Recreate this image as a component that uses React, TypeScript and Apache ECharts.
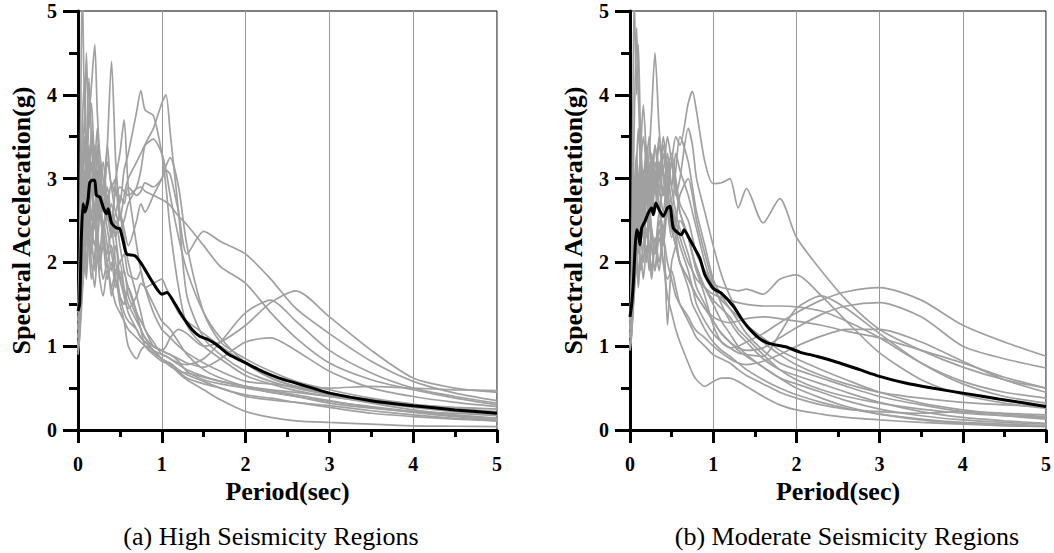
import React, { useEffect, useRef } from "react";
import * as echarts from "echarts";

// ---------- data ----------
const periodsHigh = [0, 0.02, 0.05, 0.08, 0.1, 0.13, 0.16, 0.2, 0.23, 0.26, 0.3, 0.35, 0.4, 0.45, 0.5, 0.55, 0.6, 0.7, 0.75, 0.8, 0.9, 1.0, 1.05, 1.1, 1.2, 1.3, 1.5, 1.7, 2.0, 2.3, 2.6, 3.0, 3.5, 4.0, 4.5, 5.0];

const highRecords: number[][] = [
  [1.10, 1.35, 2.10, 2.60, 2.30, 2.90, 2.50, 3.10, 2.70, 3.20, 2.80, 3.40, 2.90, 3.00, 2.70, 3.10, 3.30, 3.80, 4.05, 3.82, 3.75, 3.30, 2.90, 2.40, 1.70, 1.25, 1.00, 0.85, 0.65, 0.55, 0.47, 0.40, 0.33, 0.27, 0.22, 0.18],
  [1.20, 1.50, 2.40, 3.00, 2.60, 3.40, 2.90, 2.50, 3.10, 2.70, 2.40, 2.80, 2.30, 2.60, 2.40, 2.50, 2.70, 2.90, 3.10, 3.40, 3.60, 3.90, 4.00, 3.55, 2.60, 1.60, 1.10, 0.90, 0.70, 0.58, 0.50, 0.42, 0.34, 0.28, 0.23, 0.19],
  [1.00, 1.25, 1.90, 2.30, 2.70, 2.40, 3.00, 2.60, 2.20, 2.80, 3.20, 2.70, 2.40, 2.90, 2.50, 2.80, 3.00, 3.20, 3.30, 3.40, 3.47, 3.30, 3.10, 2.80, 2.30, 1.90, 1.40, 1.10, 0.80, 0.62, 0.52, 0.44, 0.36, 0.30, 0.24, 0.20],
  [1.30, 1.60, 2.80, 3.50, 3.00, 2.60, 3.20, 2.80, 3.40, 3.00, 2.60, 2.90, 2.50, 2.30, 2.60, 2.40, 2.20, 2.50, 2.70, 2.60, 2.80, 3.00, 3.15, 3.25, 2.90, 2.20, 1.40, 1.05, 0.85, 0.70, 0.58, 0.48, 0.38, 0.31, 0.26, 0.22],
  [1.10, 1.40, 2.20, 2.90, 3.40, 3.00, 3.60, 3.10, 2.70, 3.00, 2.80, 3.20, 2.90, 2.60, 2.80, 2.70, 2.90, 2.80, 2.85, 2.95, 2.90, 3.00, 3.10, 3.05, 2.60, 2.10, 2.37, 2.25, 2.10, 1.80, 1.45, 1.15, 0.82, 0.58, 0.44, 0.35],
  [0.95, 1.20, 1.70, 2.10, 2.40, 2.20, 2.60, 2.40, 2.80, 2.50, 2.90, 2.70, 2.95, 2.80, 2.90, 2.85, 2.80, 2.88, 2.90, 2.85, 2.80, 2.75, 2.72, 2.68, 2.55, 2.45, 2.20, 1.95, 1.75, 1.40, 1.10, 0.80, 0.60, 0.48, 0.38, 0.30],
  [1.40, 1.70, 3.00, 3.80, 3.20, 4.20, 3.50, 2.90, 3.30, 2.70, 2.30, 2.00, 2.20, 1.80, 1.60, 1.50, 1.70, 1.40, 1.20, 1.10, 1.00, 0.95, 1.00, 1.10, 1.20, 1.15, 1.00, 1.05, 1.25, 1.52, 1.66, 1.35, 0.95, 0.62, 0.50, 0.45],
  [1.20, 1.45, 2.00, 2.50, 2.90, 2.60, 2.30, 2.70, 2.40, 2.10, 2.50, 2.20, 1.90, 2.20, 1.80, 1.60, 1.40, 1.20, 1.10, 1.05, 0.95, 0.90, 0.88, 0.85, 0.80, 0.78, 0.85, 1.05, 1.40, 1.55, 1.30, 0.95, 0.68, 0.50, 0.40, 0.32],
  [1.00, 1.30, 1.80, 2.20, 1.90, 2.40, 2.10, 2.60, 2.20, 1.90, 2.30, 2.00, 1.70, 1.90, 1.60, 1.40, 1.30, 1.20, 1.10, 1.05, 1.00, 0.95, 0.92, 0.90, 0.85, 0.80, 0.75, 0.85, 1.05, 1.10, 0.95, 0.70, 0.50, 0.40, 0.33, 0.28],
  [0.90, 1.10, 1.60, 2.00, 1.80, 2.30, 2.00, 1.70, 2.10, 1.80, 1.60, 1.90, 1.70, 1.50, 1.40, 1.30, 1.20, 1.10, 1.05, 1.00, 0.92, 0.85, 0.82, 0.78, 0.68, 0.60, 0.48, 0.36, 0.22, 0.15, 0.11, 0.09, 0.07, 0.05, 0.045, 0.04],
  [1.50, 2.20, 5.40, 3.80, 4.50, 3.60, 3.90, 3.20, 3.60, 3.00, 2.70, 2.40, 2.10, 1.90, 2.00, 1.70, 1.50, 1.30, 1.20, 1.10, 0.95, 0.85, 0.82, 0.80, 0.72, 0.66, 0.58, 0.50, 0.42, 0.38, 0.33, 0.27, 0.20, 0.16, 0.13, 0.11],
  [1.20, 1.50, 2.60, 3.40, 3.00, 3.70, 4.10, 4.60, 3.80, 3.30, 3.00, 2.60, 2.30, 2.50, 2.20, 1.90, 1.70, 1.40, 1.30, 1.20, 1.00, 0.95, 0.92, 0.90, 0.82, 0.70, 0.60, 0.55, 0.50, 0.45, 0.40, 0.32, 0.26, 0.22, 0.20, 0.17],
  [1.10, 1.30, 2.00, 2.50, 2.20, 2.70, 2.40, 2.20, 2.60, 3.00, 2.70, 3.40, 4.40, 3.20, 2.60, 2.30, 2.00, 1.60, 1.40, 1.20, 1.05, 0.90, 0.88, 0.85, 0.78, 0.72, 0.64, 0.58, 0.52, 0.48, 0.45, 0.40, 0.34, 0.30, 0.27, 0.25],
  [1.30, 1.60, 2.50, 3.10, 2.70, 2.40, 2.90, 2.50, 2.20, 2.60, 2.30, 2.80, 2.50, 3.00, 3.30, 3.70, 2.90, 2.20, 1.90, 1.70, 1.40, 1.20, 1.15, 1.10, 1.00, 0.92, 0.80, 0.70, 0.58, 0.55, 0.52, 0.50, 0.52, 0.50, 0.48, 0.47],
  [1.40, 1.80, 3.60, 4.20, 3.30, 2.80, 3.40, 3.00, 2.50, 2.80, 2.40, 2.10, 2.40, 2.00, 1.80, 1.90, 1.60, 1.35, 1.20, 1.00, 0.90, 0.82, 0.80, 0.78, 0.70, 0.62, 0.55, 0.50, 0.40, 0.36, 0.33, 0.29, 0.23, 0.18, 0.14, 0.11],
  [1.00, 1.20, 1.70, 2.00, 2.50, 2.20, 1.80, 2.10, 2.40, 2.00, 2.20, 1.80, 2.00, 1.70, 1.90, 1.60, 1.45, 1.60, 1.75, 1.70, 1.50, 1.30, 1.25, 1.20, 1.05, 0.90, 0.72, 0.62, 0.52, 0.47, 0.42, 0.35, 0.27, 0.21, 0.16, 0.12],
  [1.30, 1.50, 2.30, 2.00, 2.60, 3.20, 2.80, 3.40, 3.00, 2.60, 2.90, 2.50, 2.70, 2.30, 2.00, 2.10, 1.85, 1.80, 1.90, 1.70, 1.75, 1.80, 1.70, 1.60, 1.40, 1.30, 1.15, 1.00, 0.80, 0.62, 0.52, 0.42, 0.32, 0.24, 0.18, 0.14],
  [0.95, 1.15, 1.80, 2.20, 2.00, 2.50, 2.30, 1.90, 2.30, 2.10, 1.80, 2.00, 1.60, 1.80, 1.50, 1.30, 1.00, 0.85, 0.95, 1.00, 0.95, 0.85, 0.80, 0.76, 0.70, 0.68, 0.63, 0.58, 0.52, 0.45, 0.40, 0.34, 0.28, 0.22, 0.17, 0.14],
];

const highMeanPeriods = [0, 0.02, 0.04, 0.06, 0.08, 0.1, 0.12, 0.14, 0.17, 0.2, 0.22, 0.26, 0.3, 0.34, 0.36, 0.4, 0.46, 0.5, 0.54, 0.58, 0.68, 0.76, 0.88, 1.0, 1.06, 1.16, 1.25, 1.36, 1.45, 1.55, 1.65, 1.8, 2.0, 2.2, 2.4, 2.6, 2.8, 3.0, 3.5, 4.0, 4.5, 5.0];
const highMeanSa = [1.42, 1.5, 2.3, 2.7, 2.6, 2.65, 2.75, 2.95, 2.98, 2.98, 2.8, 2.78, 2.66, 2.58, 2.64, 2.47, 2.41, 2.4, 2.25, 2.1, 2.08, 1.98, 1.78, 1.62, 1.64, 1.5, 1.35, 1.2, 1.12, 1.08, 1.02, 0.9, 0.8, 0.7, 0.62, 0.56, 0.5, 0.44, 0.35, 0.29, 0.24, 0.2];

const periodsModerate = [0, 0.02, 0.05, 0.08, 0.1, 0.13, 0.16, 0.2, 0.23, 0.26, 0.3, 0.35, 0.4, 0.45, 0.5, 0.55, 0.6, 0.7, 0.75, 0.8, 0.9, 1.0, 1.1, 1.2, 1.3, 1.4, 1.6, 1.8, 2.0, 2.3, 2.6, 3.0, 3.5, 4.0, 4.5, 5.0];

const moderateRecords: number[][] = [
  [1.10, 1.40, 2.30, 2.80, 2.50, 3.00, 2.70, 3.20, 2.90, 2.60, 3.10, 2.80, 3.30, 3.00, 3.20, 3.50, 3.40, 3.90, 4.04, 3.80, 3.20, 2.94, 2.95, 3.00, 2.65, 2.88, 2.47, 2.76, 2.30, 1.90, 1.55, 1.20, 0.95, 0.75, 0.60, 0.50],
  [1.00, 1.30, 2.10, 2.60, 2.30, 2.80, 2.50, 3.00, 3.30, 3.80, 4.50, 3.60, 3.00, 2.70, 2.40, 2.20, 2.00, 1.70, 1.50, 1.40, 1.20, 1.05, 0.95, 0.88, 0.80, 0.72, 0.60, 0.50, 0.42, 0.33, 0.26, 0.19, 0.13, 0.09, 0.07, 0.05],
  [1.30, 2.00, 5.20, 4.00, 4.60, 3.40, 3.00, 3.40, 2.90, 2.60, 3.00, 2.70, 2.40, 2.80, 2.50, 2.30, 2.00, 1.80, 1.70, 1.60, 1.45, 1.30, 1.15, 1.05, 0.95, 0.88, 0.75, 0.62, 0.50, 0.38, 0.28, 0.19, 0.12, 0.08, 0.06, 0.05],
  [1.20, 1.60, 2.80, 3.30, 2.90, 3.40, 3.88, 3.20, 2.80, 3.30, 2.90, 3.40, 3.10, 3.50, 3.20, 2.90, 2.60, 2.30, 2.10, 1.90, 1.70, 1.55, 1.45, 1.35, 1.20, 1.10, 0.90, 0.72, 0.60, 0.48, 0.40, 0.32, 0.25, 0.20, 0.17, 0.15],
  [1.10, 1.40, 2.20, 2.70, 2.40, 2.90, 2.60, 3.10, 2.70, 3.30, 3.00, 3.50, 3.10, 2.80, 3.20, 2.90, 2.60, 2.30, 2.10, 1.90, 1.60, 1.25, 1.05, 0.98, 1.00, 1.05, 1.15, 1.28, 1.40, 1.55, 1.65, 1.70, 1.55, 1.25, 1.05, 0.88],
  [1.00, 1.20, 1.90, 2.40, 2.10, 2.60, 2.30, 2.80, 2.40, 2.90, 2.60, 3.10, 2.80, 3.30, 2.90, 2.60, 2.40, 2.10, 1.90, 1.70, 1.50, 1.30, 1.15, 1.05, 0.98, 0.95, 0.98, 1.10, 1.22, 1.38, 1.48, 1.52, 1.35, 1.00, 0.85, 0.74],
  [1.20, 1.50, 2.40, 2.90, 2.60, 3.20, 2.80, 2.50, 3.00, 2.70, 3.20, 2.90, 2.60, 3.00, 2.70, 2.40, 2.20, 1.90, 1.70, 1.50, 1.30, 1.15, 1.05, 0.98, 0.92, 0.90, 0.88, 1.15, 1.45, 1.60, 1.45, 1.15, 0.80, 0.55, 0.40, 0.32],
  [1.30, 1.60, 2.60, 3.10, 2.80, 2.50, 2.90, 3.30, 3.00, 2.60, 2.90, 3.20, 2.80, 3.10, 3.30, 3.00, 2.70, 2.50, 2.30, 2.10, 1.90, 1.75, 1.70, 1.68, 1.66, 1.68, 1.62, 1.80, 1.85, 1.60, 1.30, 0.92, 0.60, 0.42, 0.32, 0.26],
  [1.10, 1.30, 2.00, 2.40, 2.20, 2.70, 2.40, 2.90, 2.50, 2.80, 3.40, 3.00, 3.50, 3.10, 2.70, 2.50, 2.30, 2.00, 1.90, 1.80, 1.70, 1.62, 1.58, 1.55, 1.52, 1.50, 1.48, 1.48, 1.47, 1.42, 1.30, 1.10, 0.80, 0.58, 0.45, 0.38],
  [1.00, 1.25, 1.80, 2.20, 2.50, 2.20, 2.60, 2.30, 2.70, 2.40, 2.10, 2.50, 2.20, 2.60, 2.40, 2.20, 2.00, 1.80, 1.70, 1.60, 1.45, 1.35, 1.30, 1.28, 1.30, 1.33, 1.35, 1.33, 1.30, 1.25, 1.18, 1.10, 0.95, 0.80, 0.63, 0.50],
  [0.95, 1.15, 1.70, 2.10, 1.80, 2.30, 2.00, 2.40, 2.10, 1.80, 2.20, 1.90, 2.30, 2.00, 1.80, 1.60, 1.50, 1.35, 1.25, 1.18, 1.10, 1.00, 0.92, 0.85, 0.80, 0.78, 0.82, 0.90, 1.00, 1.12, 1.20, 1.20, 1.05, 0.82, 0.60, 0.45],
  [1.10, 1.30, 2.00, 2.50, 2.20, 2.70, 2.40, 2.00, 2.50, 2.20, 1.90, 2.40, 2.00, 1.60, 1.40, 1.20, 1.05, 0.80, 0.68, 0.60, 0.52, 0.58, 0.62, 0.62, 0.58, 0.52, 0.40, 0.30, 0.24, 0.19, 0.15, 0.12, 0.09, 0.07, 0.05, 0.04],
  [1.20, 1.50, 2.70, 3.20, 3.60, 3.10, 2.70, 3.20, 3.50, 3.00, 2.60, 3.00, 3.40, 2.90, 2.60, 3.10, 3.50, 3.20, 2.90, 2.60, 2.20, 1.80, 1.60, 1.45, 1.30, 1.15, 0.95, 0.80, 0.72, 0.62, 0.52, 0.40, 0.30, 0.22, 0.17, 0.13],
  [1.00, 1.20, 1.70, 2.00, 2.30, 1.90, 2.20, 2.60, 2.20, 1.90, 2.30, 2.00, 2.40, 1.25, 2.00, 2.20, 2.50, 2.30, 2.10, 1.95, 1.70, 1.50, 1.30, 1.15, 1.00, 0.90, 0.75, 0.62, 0.55, 0.45, 0.35, 0.25, 0.17, 0.12, 0.09, 0.07],
  [1.30, 1.80, 3.60, 4.80, 4.00, 3.20, 2.70, 2.30, 2.60, 2.20, 1.90, 2.30, 2.00, 1.80, 1.90, 1.70, 1.50, 1.30, 1.20, 1.10, 1.00, 0.90, 0.85, 0.80, 0.72, 0.65, 0.55, 0.45, 0.38, 0.30, 0.25, 0.22, 0.20, 0.22, 0.20, 0.18],
  [0.95, 1.15, 1.60, 2.00, 1.70, 2.10, 1.80, 2.20, 1.90, 2.40, 2.10, 2.60, 2.30, 2.90, 3.20, 2.80, 3.00, 3.60, 3.40, 3.00, 2.60, 2.20, 1.85, 1.60, 1.40, 1.25, 1.05, 0.90, 0.78, 0.65, 0.55, 0.45, 0.38, 0.33, 0.30, 0.28],
  [1.10, 1.40, 2.50, 3.00, 2.70, 3.20, 3.50, 3.10, 2.80, 3.20, 2.90, 2.60, 2.90, 2.60, 2.30, 2.50, 2.80, 3.00, 2.80, 2.50, 2.10, 1.75, 1.50, 1.30, 1.15, 1.05, 0.85, 0.72, 0.65, 0.55, 0.45, 0.33, 0.22, 0.15, 0.11, 0.08],
  [1.20, 1.60, 2.90, 2.40, 3.00, 2.60, 3.10, 2.70, 3.20, 2.80, 3.40, 3.10, 2.80, 3.20, 2.90, 3.30, 3.10, 2.80, 2.60, 2.40, 2.00, 1.70, 1.55, 1.45, 1.35, 1.25, 1.10, 0.95, 0.85, 0.72, 0.60, 0.45, 0.32, 0.24, 0.19, 0.16],
];

const moderateMeanPeriods = [0, 0.02, 0.04, 0.06, 0.08, 0.1, 0.12, 0.14, 0.18, 0.22, 0.26, 0.28, 0.31, 0.35, 0.4, 0.45, 0.48, 0.52, 0.58, 0.62, 0.65, 0.7, 0.76, 0.84, 0.9, 1.0, 1.1, 1.24, 1.36, 1.46, 1.56, 1.68, 1.88, 2.04, 2.24, 2.52, 2.76, 3.0, 3.31, 3.63, 4.0, 4.43, 5.0];
const moderateMeanSa = [1.35, 1.5, 1.75, 2.15, 2.39, 2.35, 2.21, 2.41, 2.49, 2.59, 2.65, 2.57, 2.71, 2.63, 2.55, 2.65, 2.67, 2.41, 2.35, 2.33, 2.39, 2.31, 2.2, 2.05, 1.85, 1.69, 1.63, 1.48, 1.3, 1.18, 1.09, 1.03, 0.99, 0.93, 0.88, 0.8, 0.72, 0.64, 0.56, 0.5, 0.44, 0.37, 0.28];

const xRange = [0, 5];
const yRange = [0, 5];
const captions = ["(a) High Seismicity Regions", "(b) Moderate Seismicity Regions"];
const xName = "Period(sec)";
const yName = "Spectral Acceleration(g)";

// ---------- chart ----------
const FONT = "Liberation Serif";

function axisX(i: number) {
  return {
    type: "value", gridIndex: i, min: xRange[0], max: xRange[1], interval: 1,
    name: xName, nameLocation: "middle", nameGap: 46,
    nameTextStyle: { fontFamily: FONT, fontWeight: "bold", fontSize: 26, color: "#000" },
    axisLine: { show: true, onZero: false, lineStyle: { color: "#000", width: 3 } },
    axisTick: { show: true, length: 13, lineStyle: { color: "#000", width: 3 } },
    minorTick: { show: true, splitNumber: 2, length: 7, lineStyle: { color: "#000", width: 3 } },
    axisLabel: { show: true, fontFamily: FONT, fontWeight: "bold", fontSize: 20, color: "#000", margin: 24 },
    splitLine: { show: true, lineStyle: { color: "#9a9a9a", width: 1 } },
  };
}
function axisY(i: number) {
  return {
    type: "value", gridIndex: i, min: yRange[0], max: yRange[1], interval: 1,
    name: yName, nameLocation: "middle", nameGap: 44,
    nameTextStyle: { fontFamily: FONT, fontWeight: "bold", fontSize: 26, color: "#000" },
    axisLine: { show: true, onZero: false, lineStyle: { color: "#000", width: 3 } },
    axisTick: { show: true, length: 15, lineStyle: { color: "#000", width: 3 } },
    minorTick: { show: true, splitNumber: 2, length: 9, lineStyle: { color: "#000", width: 3 } },
    axisLabel: { show: true, fontFamily: FONT, fontWeight: "bold", fontSize: 20, color: "#000", margin: 21 },
    splitLine: { show: false },
  };
}

function buildOption() {
  const series: any[] = [];
  const panels = [
    { periods: periodsHigh, records: highRecords, mx: highMeanPeriods, my: highMeanSa },
    { periods: periodsModerate, records: moderateRecords, mx: moderateMeanPeriods, my: moderateMeanSa },
  ];
  panels.forEach((p, gi) => {
    p.records.forEach((rec) => {
      series.push({
        type: "line",
        xAxisIndex: gi,
        yAxisIndex: gi,
        data: p.periods.map((t, k) => [t, rec[k]]),
        showSymbol: false,
        symbol: "none",
        smooth: 0.25,
        lineStyle: { color: "#a0a0a0", width: 1.7 },
      });
    });
    series.push({
      type: "line",
      xAxisIndex: gi,
      yAxisIndex: gi,
      data: p.mx.map((t, k) => [t, p.my[k]]),
      showSymbol: false,
      symbol: "none",
      smooth: 0.2,
      lineStyle: { color: "#000", width: 3 },
    });
  });

  return {
    animation: false,
    grid: [
      { left: 78, top: 11, width: 419, height: 419, show: true, borderColor: "#000", borderWidth: 1 },
      { left: 630, top: 11, width: 417, height: 419, show: true, borderColor: "#000", borderWidth: 1 },
    ],
    xAxis: [axisX(0), axisX(1)],
    yAxis: [axisY(0), axisY(1)],
    series,
    graphic: [
      { type: "text", x: 271, y: 536, style: { text: captions[0], fontFamily: FONT, fontSize: 26, fill: "#000", align: "center", verticalAlign: "middle" } },
      { type: "text", x: 847, y: 536, style: { text: captions[1], fontFamily: FONT, fontSize: 26, fill: "#000", align: "center", verticalAlign: "middle" } },
    ],
  };
}

export default function App() {
  const ref = useRef<HTMLDivElement>(null);
  useEffect(() => {
    document.body.style.margin = "0";
    if (!ref.current) return;
    const chart = echarts.init(ref.current, undefined, { renderer: "svg" });
    chart.setOption(buildOption() as any);
    return () => chart.dispose();
  }, []);
  return <div ref={ref} style={{ width: 1054, height: 553 }} />;
}
